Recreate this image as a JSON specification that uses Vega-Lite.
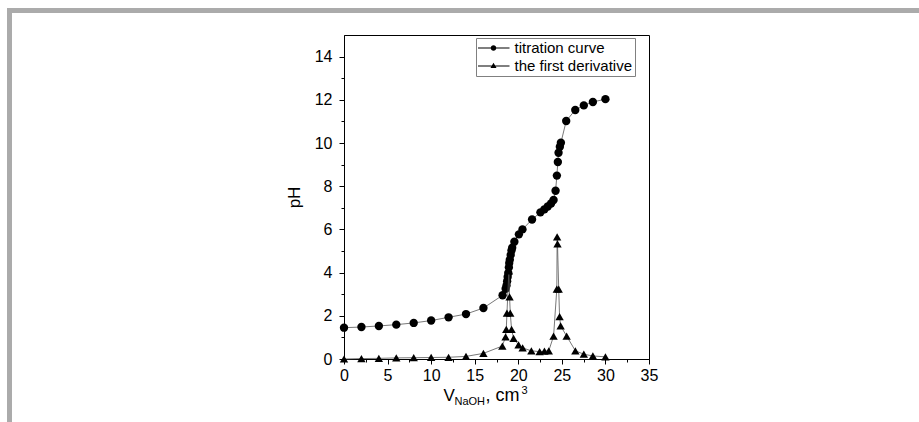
{
  "$schema": "https://vega.github.io/schema/vega-lite/v6.json",
  "background": "white",
  "padding": {"left": 7, "top": 8, "right": 0, "bottom": 0},
  "config": {
    "font": "Liberation Sans",
    "view": {"stroke": null},
    "axis": {"grid": false, "labelColor": "black", "titleColor": "black", "tickColor": "black", "domainColor": "black", "titleFontWeight": "normal"}
  },
  "bounds": "flush",
  "spacing": 0,
  "hconcat": [
    {
      "width": 5,
      "height": 414,
      "data": {"values": [{}]},
      "mark": {"type": "rect", "color": "#ababab"},
      "encoding": {}
    },
    {
      "bounds": "flush",
      "spacing": 22,
      "vconcat": [
        {
          "width": 907,
          "height": 5,
          "data": {"values": [{}]},
          "mark": {"type": "rect", "color": "#ababab"},
          "encoding": {}
        },
        {
          "bounds": "flush",
          "spacing": 0,
          "hconcat": [
            {
              "width": 332,
              "height": 1,
              "data": {"values": [{}]},
              "mark": {"type": "rect", "opacity": 0},
              "encoding": {}
            },
            {
              "width": 305,
              "height": 324,
              "view": {"stroke": "black", "strokeWidth": 1},
              "data": {
                "values": [
                  {"series": "titration curve", "V": 0, "value": 1.45},
                  {"series": "titration curve", "V": 2, "value": 1.48},
                  {"series": "titration curve", "V": 4, "value": 1.53},
                  {"series": "titration curve", "V": 6, "value": 1.59},
                  {"series": "titration curve", "V": 8, "value": 1.67},
                  {"series": "titration curve", "V": 10, "value": 1.78},
                  {"series": "titration curve", "V": 12, "value": 1.93},
                  {"series": "titration curve", "V": 14, "value": 2.08},
                  {"series": "titration curve", "V": 16, "value": 2.36},
                  {"series": "titration curve", "V": 18.2, "value": 2.95},
                  {"series": "titration curve", "V": 18.55, "value": 3.25},
                  {"series": "titration curve", "V": 18.65, "value": 3.4},
                  {"series": "titration curve", "V": 18.72, "value": 3.6},
                  {"series": "titration curve", "V": 18.78, "value": 3.8},
                  {"series": "titration curve", "V": 18.85, "value": 3.98},
                  {"series": "titration curve", "V": 18.92, "value": 4.24},
                  {"series": "titration curve", "V": 18.96, "value": 4.44},
                  {"series": "titration curve", "V": 19.03, "value": 4.6},
                  {"series": "titration curve", "V": 19.13, "value": 4.82},
                  {"series": "titration curve", "V": 19.22, "value": 5.02},
                  {"series": "titration curve", "V": 19.3, "value": 5.15},
                  {"series": "titration curve", "V": 19.55, "value": 5.43},
                  {"series": "titration curve", "V": 20.07, "value": 5.77},
                  {"series": "titration curve", "V": 20.48, "value": 6.0},
                  {"series": "titration curve", "V": 21.58, "value": 6.46},
                  {"series": "titration curve", "V": 22.54, "value": 6.79},
                  {"series": "titration curve", "V": 23.0, "value": 6.93},
                  {"series": "titration curve", "V": 23.38, "value": 7.06},
                  {"series": "titration curve", "V": 23.76, "value": 7.2},
                  {"series": "titration curve", "V": 24.05, "value": 7.36},
                  {"series": "titration curve", "V": 24.28, "value": 7.79},
                  {"series": "titration curve", "V": 24.43, "value": 8.49},
                  {"series": "titration curve", "V": 24.54, "value": 9.12},
                  {"series": "titration curve", "V": 24.62, "value": 9.55},
                  {"series": "titration curve", "V": 24.77, "value": 9.83},
                  {"series": "titration curve", "V": 24.89, "value": 10.01},
                  {"series": "titration curve", "V": 25.5, "value": 11.02},
                  {"series": "titration curve", "V": 26.54, "value": 11.53},
                  {"series": "titration curve", "V": 27.52, "value": 11.74},
                  {"series": "titration curve", "V": 28.56, "value": 11.9},
                  {"series": "titration curve", "V": 30, "value": 12.03},
                  {"series": "the first derivative", "V": 0, "value": 0.0},
                  {"series": "the first derivative", "V": 2, "value": 0.02},
                  {"series": "the first derivative", "V": 4, "value": 0.03},
                  {"series": "the first derivative", "V": 6, "value": 0.05},
                  {"series": "the first derivative", "V": 8, "value": 0.06},
                  {"series": "the first derivative", "V": 10, "value": 0.07},
                  {"series": "the first derivative", "V": 12, "value": 0.08},
                  {"series": "the first derivative", "V": 14, "value": 0.12},
                  {"series": "the first derivative", "V": 16, "value": 0.26},
                  {"series": "the first derivative", "V": 18.17, "value": 0.6},
                  {"series": "the first derivative", "V": 18.54, "value": 1.03},
                  {"series": "the first derivative", "V": 18.62, "value": 1.37},
                  {"series": "the first derivative", "V": 18.7, "value": 2.12},
                  {"series": "the first derivative", "V": 18.92, "value": 4.08},
                  {"series": "the first derivative", "V": 19.0, "value": 2.88},
                  {"series": "the first derivative", "V": 19.08, "value": 2.12},
                  {"series": "the first derivative", "V": 19.23, "value": 1.37},
                  {"series": "the first derivative", "V": 19.46, "value": 0.96},
                  {"series": "the first derivative", "V": 20.03, "value": 0.65},
                  {"series": "the first derivative", "V": 20.5, "value": 0.51},
                  {"series": "the first derivative", "V": 21.5, "value": 0.38},
                  {"series": "the first derivative", "V": 22.45, "value": 0.34},
                  {"series": "the first derivative", "V": 23.0, "value": 0.36},
                  {"series": "the first derivative", "V": 23.5, "value": 0.38},
                  {"series": "the first derivative", "V": 24.05, "value": 1.06},
                  {"series": "the first derivative", "V": 24.42, "value": 3.23},
                  {"series": "the first derivative", "V": 24.46, "value": 5.65},
                  {"series": "the first derivative", "V": 24.5, "value": 5.33},
                  {"series": "the first derivative", "V": 24.64, "value": 3.23},
                  {"series": "the first derivative", "V": 24.74, "value": 1.96},
                  {"series": "the first derivative", "V": 24.86, "value": 1.53},
                  {"series": "the first derivative", "V": 25.55, "value": 1.06},
                  {"series": "the first derivative", "V": 26.55, "value": 0.38},
                  {"series": "the first derivative", "V": 27.52, "value": 0.22},
                  {"series": "the first derivative", "V": 28.56, "value": 0.14},
                  {"series": "the first derivative", "V": 30, "value": 0.1}
                ]
              },
              "resolve": {"axis": {"x": "independent", "y": "independent"}},
              "layer": [
                {
                  "transform": [{"filter": "datum.series === 'titration curve'"}],
                  "mark": {"type": "line", "color": "#555555", "strokeWidth": 0.8},
                  "encoding": {
                    "x": {
                      "field": "V", "type": "quantitative",
                      "scale": {"domain": [0, 35], "nice": false},
                      "axis": {
                        "orient": "bottom",
                        "values": [0, 5, 10, 15, 20, 25, 30, 35],
                        "tickSize": 5,
                        "labelFontSize": 16,
                        "labelPadding": 3,
                        "labelFlush": false,
                        "labelOverlap": false,
                        "title": "V",
                        "titleFontSize": 17,
                        "titleAlign": "left",
                        "titleBaseline": "alphabetic",
                        "titleX": 99,
                        "titleY": 41
                      }
                    },
                    "y": {
                      "field": "value", "type": "quantitative",
                      "scale": {"domain": [0, 15], "nice": false},
                      "axis": {
                        "orient": "left",
                        "values": [0, 2, 4, 6, 8, 10, 12, 14],
                        "tickSize": 5,
                        "labelFontSize": 16,
                        "labelPadding": 7,
                        "labelOverlap": false,
                        "title": "pH",
                        "titleFontSize": 17,
                        "titlePadding": 11
                      }
                    }
                  }
                },
                {
                  "transform": [{"filter": "datum.series === 'titration curve'"}],
                  "mark": {"type": "point", "shape": "circle", "filled": true, "color": "black", "opacity": 1, "size": 70},
                  "encoding": {
                    "x": {
                      "field": "V", "type": "quantitative",
                      "axis": {
                        "orient": "bottom",
                        "values": [2.5, 7.5, 12.5, 17.5, 22.5, 27.5, 32.5],
                        "tickSize": 3,
                        "labels": false,
                        "domain": false,
                        "title": "NaOH",
                        "titleFontSize": 11,
                        "titleAlign": "left",
                        "titleBaseline": "alphabetic",
                        "titleX": 110,
                        "titleY": 45
                      }
                    },
                    "y": {
                      "field": "value", "type": "quantitative",
                      "axis": {
                        "orient": "left",
                        "values": [1, 3, 5, 7, 9, 11, 13],
                        "tickSize": 3,
                        "labels": false,
                        "domain": false,
                        "title": null
                      }
                    }
                  }
                },
                {
                  "transform": [{"filter": "datum.series === 'the first derivative'"}],
                  "mark": {"type": "line", "color": "#555555", "strokeWidth": 0.8},
                  "encoding": {
                    "x": {
                      "field": "V", "type": "quantitative",
                      "axis": {
                        "orient": "bottom",
                        "ticks": false,
                        "labels": false,
                        "domain": false,
                        "title": ", cm",
                        "titleFontSize": 18,
                        "titleAlign": "left",
                        "titleBaseline": "alphabetic",
                        "titleX": 141,
                        "titleY": 41
                      }
                    },
                    "y": {"field": "value", "type": "quantitative", "axis": null}
                  }
                },
                {
                  "transform": [{"filter": "datum.series === 'the first derivative'"}],
                  "mark": {"type": "point", "shape": "triangle-up", "filled": true, "color": "black", "opacity": 1, "size": 70},
                  "encoding": {
                    "x": {
                      "field": "V", "type": "quantitative",
                      "axis": {
                        "orient": "bottom",
                        "ticks": false,
                        "labels": false,
                        "domain": false,
                        "title": "3",
                        "titleFontSize": 11,
                        "titleAlign": "left",
                        "titleBaseline": "alphabetic",
                        "titleX": 177,
                        "titleY": 34
                      }
                    },
                    "y": {"field": "value", "type": "quantitative", "axis": null}
                  }
                },
                {
                  "description": "Legend key: a short line through each series' marker",
                  "transform": [{"filter": "false"}],
                  "mark": {"type": "point", "filled": true, "color": "black", "opacity": 1},
                  "encoding": {
                    "x": {"field": "V", "type": "quantitative", "axis": null},
                    "y": {"field": "value", "type": "quantitative", "axis": null},
                    "shape": {
                      "field": "series", "type": "nominal",
                      "scale": {
                        "domain": ["titration curve", "the first derivative"],
                        "range": [
                          "M-1,-0.032H1V0.032H-1ZM0.175,0A0.175,0.175,0,1,1,-0.175,0A0.175,0.175,0,1,1,0.175,0Z",
                          "M-1,-0.032H1V0.032H-1ZM0,-0.2L0.19,0.13L-0.19,0.13Z"
                        ]
                      },
                      "legend": {
                        "title": null,
                        "orient": "none",
                        "legendX": 469,
                        "legendY": 30,
                        "padding": 2,
                        "strokeColor": "#808080",
                        "fillColor": "white",
                        "labelFontSize": 15,
                        "labelColor": "black",
                        "symbolSize": 1024,
                        "symbolFillColor": "black",
                        "symbolOpacity": 1,
                        "symbolOffset": -1.5,
                        "labelOffset": 4,
                        "clipHeight": 16,
                        "rowPadding": 2
                      }
                    }
                  }
                }
              ]
            }
          ]
        }
      ]
    }
  ]
}
